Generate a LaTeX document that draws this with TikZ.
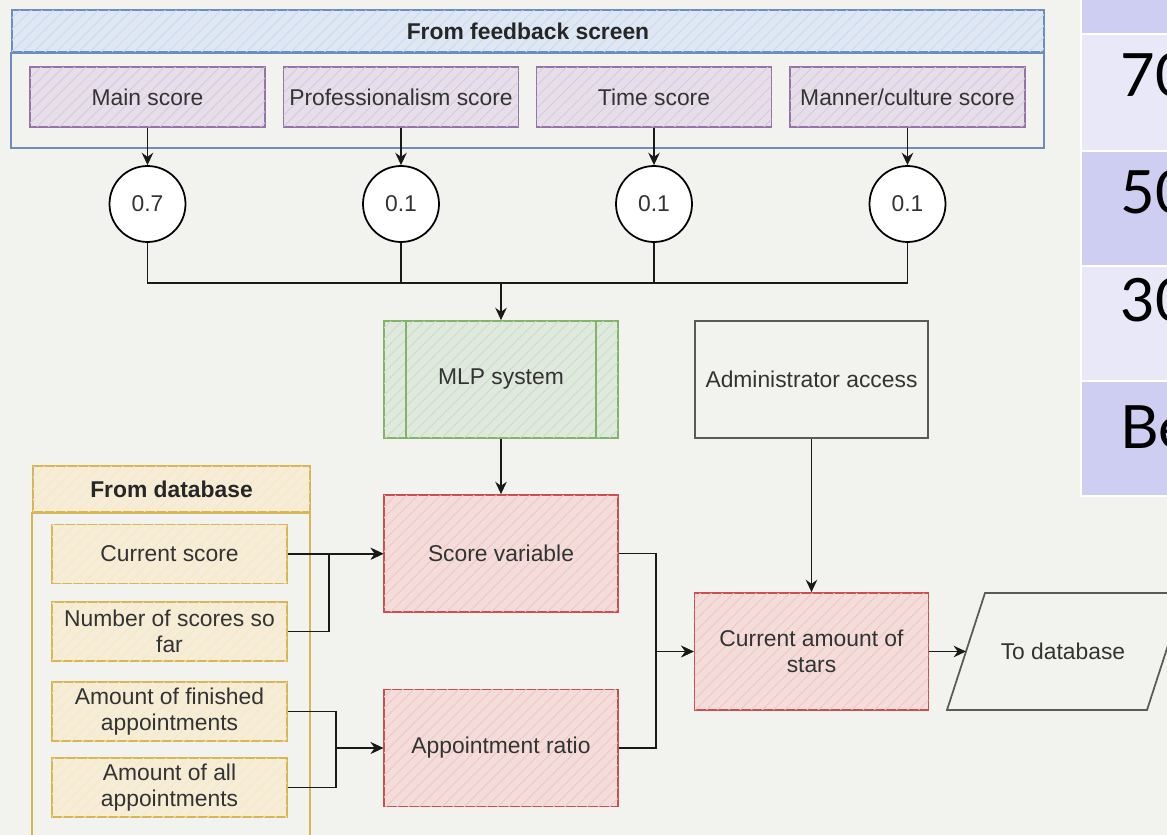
\documentclass[tikz,border=0pt]{standalone}
\usepackage{fontspec}
\setmainfont{Liberation Sans}
\newfontfamily\tablefont{Lato}
\usetikzlibrary{arrows.meta,patterns.meta}
\definecolor{bgcol}{RGB}{242,242,239}
\definecolor{textgray}{RGB}{51,51,51}
\definecolor{bluedraw}{RGB}{108,142,191}
\definecolor{bluefill}{RGB}{200,218,245}
\definecolor{purpledraw}{RGB}{150,115,166}
\definecolor{purplefill}{RGB}{215,200,225}
\definecolor{greendraw}{RGB}{130,179,102}
\definecolor{greenfill}{RGB}{200,222,198}
\definecolor{reddraw}{RGB}{200,80,80}
\definecolor{redfill}{RGB}{245,195,193}
\definecolor{yellowdraw}{RGB}{214,182,86}
\definecolor{yellowfill}{RGB}{250,232,190}
\definecolor{graydraw}{RGB}{90,90,90}
\definecolor{tabdark}{RGB}{206,206,242}
\definecolor{tablight}{RGB}{232,232,248}
\begin{document}
\begin{tikzpicture}
[x=0.02cm,y=-0.02cm,
  every node/.style={font=\fontsize{13}{15}\selectfont,text=textgray},
  hatchbox/.style 2 args={draw=#1,line width=1pt,fill=#2!45!bgcol,
    postaction={pattern={Lines[angle=45,distance=4.5pt,line width=0.5pt]},pattern color=#2}},
  scorebox/.style={hatchbox={purpledraw}{purplefill},minimum width=4.7cm,
    minimum height=1.2cm,inner xsep=1pt},
  dbbox/.style={hatchbox={yellowdraw}{yellowfill},minimum width=4.7cm,
    minimum height=1.18cm,align=center,inner xsep=2pt,inner ysep=1pt},
  calcbox/.style={hatchbox={reddraw}{redfill},minimum width=4.68cm,
    minimum height=2.34cm,align=center},
  plainbox/.style={draw=graydraw,line width=1pt,minimum width=4.66cm,minimum height=2.34cm},
  weightnode/.style={shape=circle,draw,line width=1pt,fill=white,minimum size=1.52cm,inner sep=0pt},
  headtext/.style={font=\fontsize{13}{15}\selectfont\bfseries,text=black!85},
  tabletext/.style={font=\fontsize{34}{38}\selectfont\tablefont,text=black,inner sep=0pt},
  linedecorate/.style={line width=1.1pt,black!90},
  arrowdecorate/.style={linedecorate,-{Stealth[length=7pt,width=6.5pt]}}]
\clip (0,0) rectangle (1167,835);
\fill[bgcol] (0,0) rectangle (1167,835);
%% feedback screen group
\node (fbhead) at (528,31) [hatchbox={bluedraw}{bluefill},minimum width=20.64cm,
  minimum height=0.84cm,headtext] {From feedback screen};
\draw[bluedraw,line width=1pt] (fbhead.south west) rectangle (1044,148);
\foreach \name/\x/\label/\weight in {main/147.5/Main score/0.7,
  prof/401/Professionalism score/0.1, time/654/Time score/0.1,
  manner/907.5/{Manner/culture score}/0.1} {
  \node (\name) at (\x,97) [scorebox] {\label};
  \node (w\name) at (\x,204) [weightnode] {\weight};
  \draw[arrowdecorate] (\name) -- (w\name);
}
%% weighted sum into the MLP
\node (mlp) at (501,379.5) [hatchbox={greendraw}{greenfill},minimum width=4.68cm,
  minimum height=2.34cm] {MLP system};
\draw[greendraw,line width=1pt] ([xshift=0.46cm]mlp.north west) -- ([xshift=0.46cm]mlp.south west)
  ([xshift=-0.46cm]mlp.north east) -- ([xshift=-0.46cm]mlp.south east);
\coordinate (join) at (501,283);
\draw[linedecorate] (wmain.south) |- (join) -| (wmanner.south);
\foreach \w in {wprof,wtime}
  \draw[linedecorate] (\w.south) -- (\w.south |- join);
\draw[arrowdecorate] (join) -- (mlp.north);
\node (admin) at (811.5,379.5) [plainbox] {Administrator access};
%% database group
\node (dbhead) at (171.5,489) [hatchbox={yellowdraw}{yellowfill},minimum width=5.54cm,
  minimum height=0.92cm,headtext] {From database};
\draw[yellowdraw,line width=1pt] (dbhead.south west) rectangle (310,850);
\foreach \name/\y/\label in {curscore/554/Current score,
  nscores/631.5/Number of scores so\\far,
  finished/711.5/Amount of finished\\appointments,
  allappt/787.5/Amount of all\\appointments}
  \node (\name) at (169.5,\y) [dbbox] {\label};
%% calculated values
\node (scorevar) at (501,553.5) [calcbox] {Score variable};
\node (ratio) at (501,748) [calcbox] {Appointment ratio};
\node (stars) at (811.5,651.5) [calcbox] {Current amount of\\stars};
\draw[graydraw,line width=1pt] (947,710) -- (985,593) -- (1185,593) -- (1147,710) -- cycle;
\node (todb) at (1063,651) {To database};
\coordinate (dbin) at (966,651.5);
%% connectors
\draw[arrowdecorate] (mlp) -- (scorevar);
\draw[arrowdecorate] (curscore.east) -- (curscore.east -| scorevar.west);
\draw[arrowdecorate] (nscores.east) -- ++(41,0) |- (scorevar.west);
\draw[arrowdecorate] (finished.east) -- ++(48,0) |- (ratio.west);
\draw[arrowdecorate] (allappt.east) -- ++(48,0) |- (ratio.west);
\draw[arrowdecorate] (scorevar.east) -- ++(37,0) |- (stars.west);
\draw[arrowdecorate] (ratio.east) -- ++(37,0) |- (stars.west);
\draw[arrowdecorate] (admin) -- (stars);
\draw[arrowdecorate] (stars.east) -- (dbin);
%% table at the right edge
\fill[white] (1080,0) rectangle (1170,497);
\foreach \top/\bot/\shade in {0/33/tabdark, 35/150/tablight, 152/265/tabdark,
  267/380/tablight, 382/495/tabdark}
  \fill[\shade] (1082,\top) rectangle (1170,\bot);
\foreach \cell/\y/\txt in {seventy/75/70, fifty/192/50, thirty/300/30, below/427/Be}
  \node (\cell) at (1120,\y) [anchor=west,tabletext] {\txt};
\end{tikzpicture}
\end{document}
